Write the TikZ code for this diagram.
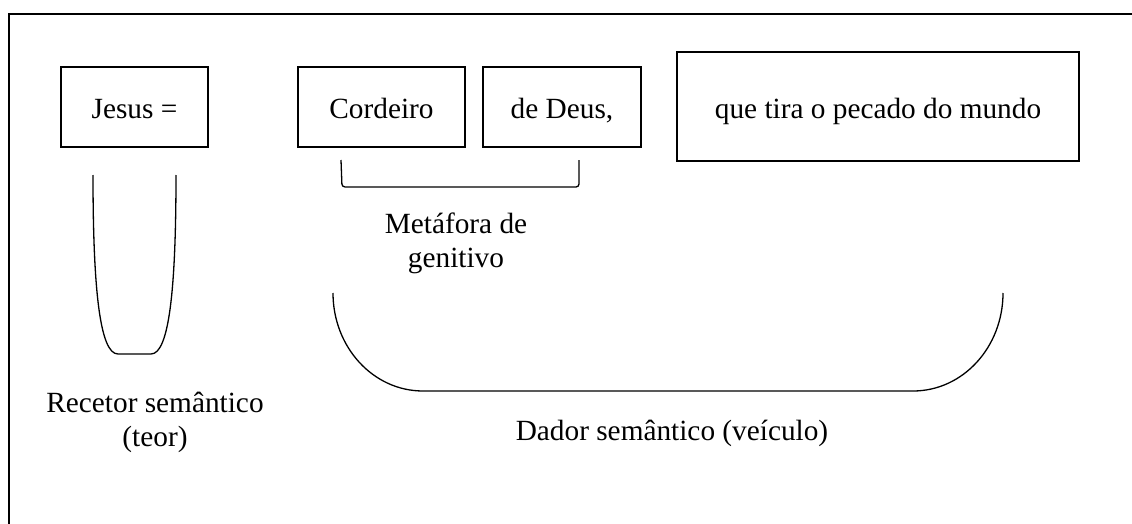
\documentclass[tikz,border=0pt]{standalone}
\usepackage{fontspec}
\setmainfont{Liberation Serif}
\begin{document}
\begin{tikzpicture}[x=1pt,y=-1pt,
  wordbox/.style={draw,line width=2pt,inner sep=0pt,text height=30pt,text depth=6pt,minimum height=80pt},
  label/.style={align=center,anchor=base,inner sep=0pt},
  thinline/.style={line width=1.3pt}]
\fontsize{29.3}{34}\selectfont
\useasboundingbox (0,0) rectangle (1132,524);
% frame
\draw[line width=2.6pt] (9,524) -- (9,14) -- (1132,14);
% boxes
\node[wordbox,minimum width=147pt] (jesus) at (134.5,107) {Jesus =};
\node[wordbox,minimum width=167pt] (cordeiro) at (381.5,107) {Cordeiro};
\node[wordbox,minimum width=158pt] (deus) at (562,107) {de Deus,};
\node[wordbox,minimum width=402pt,minimum height=109pt] (tira) at (878,106.5) {que tira o pecado do mundo};
% U shape under Jesus
\draw[thinline] (93,175) .. controls (93,290) and (100,354) .. (118,354) -- (151,354)
  .. controls (169,354) and (176,290) .. (176,175);
% bracket under Cordeiro de Deus
\draw[thinline,rounded corners=3pt] (341,160) -- (342,187) -- (579,187) -- (579,160);
% big brace
\draw[thinline] (333,293) .. controls (333,347) and (373,391) .. (423,391) -- (913,391)
  .. controls (963,391) and (1003,347) .. (1003,293);
% labels (base = baseline of the last line)
\node[label] (meta) at (456,267) {Metáfora de\\genitivo};
\node[label] (recetor) at (155,446) {Recetor semântico\\(teor)};
\node[label] (dador) at (672,440) {Dador semântico (veículo)};
\end{tikzpicture}
\end{document}
